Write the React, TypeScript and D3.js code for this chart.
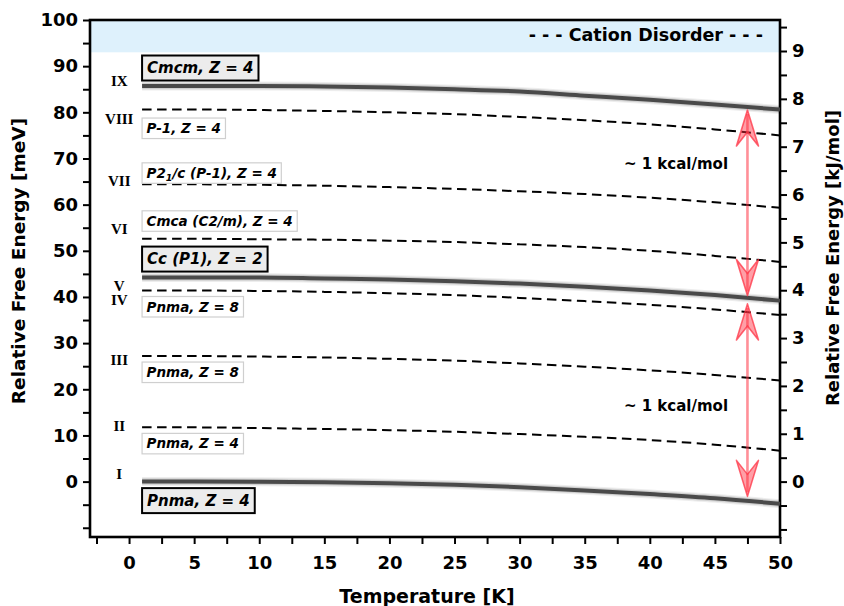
import React, { useEffect, useRef } from "react";
import * as d3 from "d3";

// ---------- data ----------
const temperatures = [1, 5, 10, 15, 20, 25, 30, 35, 40, 45, 50];
const energyI = [0, 0, -0.05, -0.15, -0.35, -0.7, -1.2, -1.9, -2.7, -3.6, -4.8];
const energyII = [11.75, 11.75, 11.6, 11.4, 11.15, 10.8, 10.3, 9.7, 9.0, 8.0, 6.7];
const energyIII = [27.2, 27.2, 27.1, 26.9, 26.6, 26.2, 25.6, 24.9, 24.1, 23.1, 21.9];
const energyIV = [41.4, 41.4, 41.3, 41.1, 40.8, 40.4, 39.8, 39.1, 38.3, 37.3, 36.1];
const energyV = [44.2, 44.2, 44.2, 44.0, 43.8, 43.4, 42.9, 42.2, 41.4, 40.4, 39.2];
const energyVI = [52.6, 52.6, 52.5, 52.4, 52.2, 51.9, 51.4, 50.8, 50.0, 48.9, 47.6];
const energyVII = [64.4, 64.4, 64.3, 64.1, 63.8, 63.4, 62.9, 62.3, 61.5, 60.5, 59.3];
const energyVIII = [80.6, 80.6, 80.5, 80.3, 80.0, 79.6, 79.0, 78.3, 77.4, 76.3, 75.0];
const energyIX = [85.7, 85.7, 85.7, 85.6, 85.4, 85.0, 84.5, 83.6, 82.7, 81.7, 80.6];

const seriesValues = [energyI, energyII, energyIII, energyIV, energyV, energyVI, energyVII, energyVIII, energyIX];
const seriesNumerals = ["I", "II", "III", "IV", "V", "VI", "VII", "VIII", "IX"];
const seriesLabels = [
  "Pnma, Z = 4",
  "Pnma, Z = 4",
  "Pnma, Z = 8",
  "Pnma, Z = 8",
  "Cc (P1), Z = 2",
  "Cmca (C2/m), Z = 4",
  "P2_1/c (P-1), Z = 4",
  "P-1, Z = 4",
  "Cmcm, Z = 4",
];
const seriesKind = ["solid", "dashed", "dashed", "dashed", "solid", "dashed", "dashed", "dashed", "solid"];
const numeralEnergy = [1.8, 12.2, 26.4, 39.3, 42.5, 54.8, 65.1, 78.6, 86.8];

const xTickValues = d3.range(-2.5, 50.01, 2.5);
const yTickValues = d3.range(-10, 100.01, 5);
const y2TickValues = d3.range(-1, 9.51, 0.5);
const MEV_TO_KJMOL = 0.09648;

const disorderBand = [93, 100];
const arrowTemperature = 47.5;
const arrowSpans = [
  [80.5, 40.3],
  [38.5, -3.2],
];
const kcalLabelEnergy = [68.8, 16.5];
const kcalText = "~ 1 kcal/mol";

// ---------- layout ----------
const W = 844;
const H = 606;
const M = { left: 90, right: 780, top: 20, bottom: 537 };
const FONT = "'DejaVu Sans', Verdana, sans-serif";
const SERIF = "'Liberation Serif', 'Times New Roman', serif";
const labelBelow = [true, true, true, true, false, false, false, true, false];
const labelGap = [6.5, 6, 6, 6, 6, 7.5, 1, 8.5, 5.5];

export default function App() {
  const ref = useRef<SVGSVGElement>(null);

  useEffect(() => {
    const svg = d3.select(ref.current);
    svg.selectAll("*").remove();

    const x = d3.scaleLinear().domain([-3, 50]).range([M.left, M.right]);
    const y = d3.scaleLinear().domain([-12, 100]).range([M.bottom, M.top]);
    const y2 = d3
      .scaleLinear()
      .domain([-12 * MEV_TO_KJMOL, 100 * MEV_TO_KJMOL])
      .range([M.bottom, M.top]);

    svg.append("rect").attr("width", W).attr("height", H).attr("fill", "#ffffff");

    // disorder band
    svg
      .append("rect")
      .attr("x", M.left)
      .attr("y", y(disorderBand[1]))
      .attr("width", M.right - M.left)
      .attr("height", y(disorderBand[0]) - y(disorderBand[1]))
      .attr("fill", "#def1fc");

    svg
      .append("text")
      .attr("x", 763)
      .attr("y", 41)
      .attr("text-anchor", "end")
      .attr("font-family", FONT)
      .attr("font-weight", "bold")
      .attr("font-size", 17.5)
      .text("- - - Cation Disorder - - -");

    // axes
    const styleAxis = (g: any, fs = 18) => {
      g.select(".domain").remove();
      g.selectAll(".tick line").attr("stroke", "#000").attr("stroke-width", 2);
      g.selectAll(".tick text")
        .attr("font-family", FONT)
        .attr("font-weight", "bold")
        .attr("font-size", fs)
        .attr("fill", "#000");
    };

    svg
      .append("g")
      .attr("transform", `translate(${M.left},0)`)
      .call(
        d3
          .axisLeft(y)
          .tickValues(yTickValues)
          .tickSize(7)
          .tickPadding(5)
          .tickFormat((d: any) => (d >= 0 && d % 10 === 0 ? String(d) : ""))
      )
      .call((g: any) => styleAxis(g));

    svg
      .append("g")
      .attr("transform", `translate(${M.right},0)`)
      .call(
        d3
          .axisRight(y2)
          .tickValues(y2TickValues)
          .tickSize(7)
          .tickPadding(5)
          .tickFormat((d: any) => (d >= 0 && Math.abs(d - Math.round(d)) < 1e-6 ? String(Math.round(d)) : ""))
      )
      .call((g: any) => styleAxis(g));

    svg
      .append("g")
      .attr("transform", `translate(0,${M.bottom})`)
      .call(
        d3
          .axisBottom(x)
          .tickValues(xTickValues)
          .tickSize(7)
          .tickPadding(12)
          .tickFormat((d: any) => (d >= 0 && d % 5 === 0 ? String(d) : ""))
      )
      .call((g: any) => styleAxis(g));

    // frame
    svg
      .append("rect")
      .attr("x", M.left)
      .attr("y", M.top)
      .attr("width", M.right - M.left)
      .attr("height", M.bottom - M.top)
      .attr("fill", "none")
      .attr("stroke", "#000")
      .attr("stroke-width", 2.6);

    // titles
    svg
      .append("text")
      .attr("x", 427)
      .attr("y", 603)
      .attr("text-anchor", "middle")
      .attr("font-family", FONT)
      .attr("font-weight", "bold")
      .attr("font-size", 19)
      .text("Temperature [K]");

    svg
      .append("text")
      .attr("transform", `translate(25,261) rotate(-90)`)
      .attr("text-anchor", "middle")
      .attr("font-family", FONT)
      .attr("font-weight", "bold")
      .attr("font-size", 18.5)
      .text("Relative Free Energy [meV]");

    svg
      .append("text")
      .attr("transform", `translate(839,258) rotate(-90)`)
      .attr("text-anchor", "middle")
      .attr("font-family", FONT)
      .attr("font-weight", "bold")
      .attr("font-size", 18)
      .text("Relative Free Energy [kJ/mol]");

    // curves
    const line = d3
      .line<number>()
      .x((_, i) => x(temperatures[i]))
      .y((d) => y(d))
      .curve(d3.curveMonotoneX);

    const plot = svg.append("g");
    seriesValues.forEach((vals, i) => {
      if (seriesKind[i] === "solid") {
        plot.append("path").attr("d", line(vals)).attr("fill", "none").attr("stroke", "#000").attr("stroke-opacity", 0.07).attr("stroke-width", 9);
        plot.append("path").attr("d", line(vals)).attr("fill", "none").attr("stroke", "#000").attr("stroke-opacity", 0.12).attr("stroke-width", 6.5);
        plot.append("path").attr("d", line(vals)).attr("fill", "none").attr("stroke", "#4a4a4a").attr("stroke-width", 4);
      } else {
        plot
          .append("path")
          .attr("d", line(vals))
          .attr("fill", "none")
          .attr("stroke", "#000")
          .attr("stroke-width", 2)
          .attr("stroke-dasharray", "9.5,5.5");
      }
    });

    // numerals
    seriesNumerals.forEach((n, i) => {
      svg
        .append("text")
        .attr("x", x(-0.75))
        .attr("y", y(numeralEnergy[i]))
        .attr("dy", "0.35em")
        .attr("text-anchor", "middle")
        .attr("font-family", SERIF)
        .attr("font-weight", "bold")
        .attr("font-size", 15)
        .text(n);
    });

    // structure labels
    seriesLabels.forEach((lab, i) => {
      const big = seriesKind[i] === "solid";
      const fs = big ? 15 : 13.5;
      const h = big ? 25 : 20.5;
      const pad = big ? 5 : 4.5;
      const lineY = y(seriesValues[i][0]);
      const top = labelBelow[i] ? lineY + labelGap[i] : lineY - labelGap[i] - h;
      const left = x(temperatures[0]);
      const g = svg.append("g");
      const rect = g
        .append("rect")
        .attr("x", left)
        .attr("y", top)
        .attr("height", h)
        .attr("fill", big ? "#ececec" : "#ffffff")
        .attr("stroke", big ? "#000" : "#cfcfcf")
        .attr("stroke-width", big ? 2 : 1.2);
      const t = g
        .append("text")
        .attr("x", left + pad)
        .attr("y", top + h / 2)
        .attr("dy", "0.36em")
        .attr("font-family", FONT)
        .attr("font-weight", "bold")
        .attr("font-style", "italic")
        .attr("font-size", fs);
      const parts = lab.split(/_(\d)/);
      parts.forEach((p, k) => {
        if (k % 2 === 1) {
          t.append("tspan").attr("font-size", fs * 0.7).attr("dy", "0.3em").text(p);
        } else if (p) {
          t.append("tspan").attr("dy", k > 0 ? "-0.2em" : null).text(p);
        }
      });
      const bb = (t.node() as SVGTextElement).getComputedTextLength();
      rect.attr("width", bb + pad * 2);
    });

    // arrows
    const ax = x(arrowTemperature);
    const head = (tipY: number, dir: number) => {
      const p = d3.path();
      p.moveTo(ax, tipY);
      p.lineTo(ax - 11, tipY + dir * 36);
      p.lineTo(ax, tipY + dir * 22);
      p.lineTo(ax + 11, tipY + dir * 36);
      p.closePath();
      svg
        .append("path")
        .attr("d", p.toString())
        .attr("fill", "#ff2a3c")
        .attr("fill-opacity", 0.45)
        .attr("stroke", "#ff3344")
        .attr("stroke-opacity", 0.75)
        .attr("stroke-width", 1.6)
        .attr("stroke-linejoin", "round");
    };
    arrowSpans.forEach(([a, b]) => {
      svg
        .append("line")
        .attr("x1", ax)
        .attr("x2", ax)
        .attr("y1", y(a) + 4)
        .attr("y2", y(b) - 4)
        .attr("stroke", "#ff3344")
        .attr("stroke-opacity", 0.55)
        .attr("stroke-width", 2.6);
      head(y(a), 1);
      head(y(b), -1);
    });

    kcalLabelEnergy.forEach((e) => {
      svg
        .append("text")
        .attr("x", 676)
        .attr("y", y(e))
        .attr("dy", "0.35em")
        .attr("text-anchor", "middle")
        .attr("font-family", FONT)
        .attr("font-weight", "bold")
        .attr("font-size", 15)
        .text(kcalText);
    });
  }, []);

  return (
    <svg
      ref={ref}
      width={W}
      height={H}
      style={{ position: "absolute", left: 0, top: 0, display: "block" }}
    />
  );
}
